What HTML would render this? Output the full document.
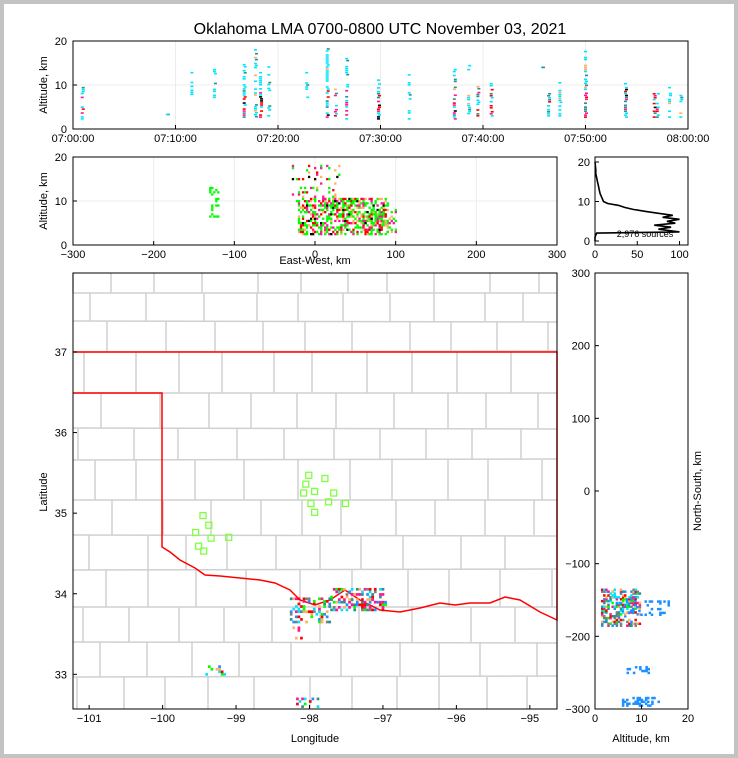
<!DOCTYPE html>
<html><head><meta charset="utf-8"><style>
html,body{margin:0;padding:0;background:#fff}
#wrap{width:738px;height:758px;box-sizing:border-box;border:4px solid #c3c3c3;background:#fff;position:relative;overflow:hidden}
svg{position:absolute;left:-4px;top:-4px;font-family:"Liberation Sans",sans-serif}
</style></head><body>
<div id="wrap">
<svg id="s" width="738" height="758" xmlns="http://www.w3.org/2000/svg"></svg>
</div>
<script>
// ---- data ----
const flashMin = [0.9,9.2,11.6,13.8,16.7,17.8,18.3,19.1,22.8,24.8,25.6,26.7,29.8,32.8,37.2,38.6,39.5,40.8,45.8,46.4,47.5,50.0,53.9,56.7,57.0,58.2,59.3];
const flashLo  = [2.3,3.3,7.9,7.2,2.7,2.8,2.7,3.0,7.2,2.7,3.0,2.3,2.3,2.3,2.3,3.5,3.0,3.0,14.0,3.0,3.0,2.7,2.7,2.7,2.7,2.7,2.7];
const flashHi  = [9.4,3.3,12.8,13.5,14.6,18.0,12.8,14.1,12.8,18.2,9.0,16.0,11.1,12.3,13.5,14.4,9.6,10.3,14.0,8.0,10.5,17.6,10.3,8.0,8.0,9.4,7.6];
const flashDense=[1,0,0,0,1,0,1,0,0,1,1,1,1,0,1,0,1,1,0,1,0,1,1,1,1,0,0];
const ewBoxX0=[-20,-130,-30,70];
const ewBoxX1=[ 90,-118, 30,100];
const ewBoxZ0=[2.5,6.5,10,3];
const ewBoxZ1=[10.5,13,18,8];
const histAlt=[0,1,2,2.3,3,3.5,4,4.5,5,5.5,6,6.5,7,7.5,8,8.5,9,9.5,10,11,12,13,14,15,16,17,18,19,20];
const histCnt=[0,0,2,100,75,90,70,95,85,100,80,92,75,60,45,35,28,15,10,8,6,5,4,3,2,1,1,0.5,0];
const stnLon=[-98.01,-97.79,-98.05,-97.93,-98.08,-97.67,-97.98,-97.74,-97.51,-97.93,-99.45,-99.37,-99.55,-99.34,-99.10,-99.51,-99.44];
const stnLat=[35.47,35.43,35.36,35.27,35.25,35.25,35.12,35.14,35.12,35.01,34.97,34.85,34.76,34.69,34.70,34.59,34.53];
const srcLon0=[-98.25,-97.7,-98.25,-99.4,-98.2];
const srcLon1=[-97.7,-96.95,-98.1,-99.15,-97.85];
const srcLat0=[33.65,33.8,33.45,33.0,32.6];
const srcLat1=[33.95,34.08,33.62,33.1,32.72];
const nsBoxA0=[1.5,5,7,6];
const nsBoxA1=[10,16,12,14];
const nsBoxN0=[-185,-170,-250,-295];
const nsBoxN1=[-135,-150,-240,-283];
const pal=['#00e5ff','#ff0000','#2f8f8f','#ff1493','#ffb060','#00ff00','#1e90ff','#808080'];

// ---- helpers ----
const S=document.getElementById('s');const NS='http://www.w3.org/2000/svg';
function el(t,a,p){const e=document.createElementNS(NS,t);for(const k in a)e.setAttribute(k,a[k]);(p||S).appendChild(e);return e;}
function txt(x,y,s,size,anchor,rot){const t=el('text',{x:x,y:y,'font-size':size,'text-anchor':anchor||'middle',fill:'#000'});if(rot)t.setAttribute('transform','rotate(-90 '+x+' '+y+')');t.textContent=s;return t;}
function lin(d0,d1,r0,r1){return v=>r0+(v-d0)/(d1-d0)*(r1-r0);}
function hsh(i,j){let h=(i*374761393+j*668265263)|0;h=(h^(h>>>13))*1274126177|0;return ((h^(h>>>16))>>>0)%100;}

let t=txt(380,34,'Oklahoma LMA 0700-0800 UTC November 03, 2021',16);

function axesBox(name){const g=el('g',{});return g;}
function frame(g,x0,y0,x1,y1){el('rect',{x:x0,y:y0,width:x1-x0,height:y1-y0,fill:'none',stroke:'#000','stroke-width':1},g);}

// ---- Panel 1 ----
const g1=axesBox('time-height-panel');
const tx=lin(0,60,73,688), ty1=lin(0,20,129,41);
[0,10,20,30,40,50,60].forEach(m=>el('line',{x1:tx(m),x2:tx(m),y1:41,y2:129,stroke:'#ececec'},g1));
el('line',{x1:73,x2:688,y1:ty1(10),y2:ty1(10),stroke:'#ececec'},g1);
flashMin.forEach((m,i)=>{const n=Math.max(1,Math.round((flashHi[i]-flashLo[i])/0.45));for(let k=0;k<=n;k++){const h=hsh(i+3,k+11);if(k>0&&k<n&&h<(flashDense[i]?30:55))continue;const a=flashLo[i]+(flashHi[i]-flashLo[i])*k/n;let c=pal[0];
if(flashDense[i]&&a<9){c=h%5==0?pal[1]:h%5==1?pal[3]:h%5==2?pal[2]:pal[0];if(h%11==0)c='#000';}else{c=h%6==0?pal[2]:h%9==1?pal[4]:pal[0];}
const r=el('rect',{x:tx(m)-1.5+(h%3==0?1:0),y:ty1(a)-0.8,width:3,height:1.6,fill:c},g1);
}});
frame(g1,73,41,688,129);
[0,10,20].forEach(v=>{el('line',{x1:73,x2:77,y1:ty1(v),y2:ty1(v),stroke:'#000'},g1);txt(67,ty1(v)+4,String(v),11,'end');});
['07:00:00','07:10:00','07:20:00','07:30:00','07:40:00','07:50:00','08:00:00'].forEach((s,i)=>{el('line',{x1:tx(i*10),x2:tx(i*10),y1:129,y2:125,stroke:'#000'},g1);txt(tx(i*10),142,s,11);});
t=txt(47,85,'Altitude, km',11,'middle',true);

// ---- Panel 2 ----
const g2=axesBox('ew-height-panel');
const ex=lin(-300,300,73,557), ey=lin(0,20,245,157);
[-300,-200,-100,0,100,200,300].forEach(v=>el('line',{x1:ex(v),x2:ex(v),y1:157,y2:245,stroke:'#ececec'},g2));
el('line',{x1:73,x2:557,y1:ey(10),y2:ey(10),stroke:'#ececec'},g2);
const ewKeep=[55,35,12,30];
ewBoxX0.forEach((x0,b)=>{let i=0;for(let xv=x0;xv<=ewBoxX1[b];xv+=2.5){i++;let j=0;for(let z=ewBoxZ0[b];z<=ewBoxZ1[b];z+=0.5){j++;const h=hsh(i*7+b,j*5+b);if(h>=ewKeep[b])continue;
const c=b==1?pal[5]:(h%6==1?pal[1]:h%6==2?pal[3]:h%6==3?pal[4]:h%13==4?'#000':pal[5]);
const r=el('rect',{x:ex(xv)-1,y:ey(z)-1,width:2.3,height:2.3,fill:c},g2);
}}});
frame(g2,73,157,557,245);
[0,10,20].forEach(v=>{el('line',{x1:73,x2:77,y1:ey(v),y2:ey(v),stroke:'#000'},g2);txt(67,ey(v)+4,String(v),11,'end');});
[-300,-200,-100,0,100,200,300].forEach(v=>{el('line',{x1:ex(v),x2:ex(v),y1:245,y2:241,stroke:'#000'},g2);txt(ex(v),258,(v<0?'\u2212':'')+Math.abs(v),11);});
t=txt(315,264,'East-West, km',11);
t=txt(47,201,'Altitude, km',11,'middle',true);

// ---- Histogram ----
const g3=axesBox('altitude-histogram');
const hx=lin(0,110,595,688), hy=lin(0,20,241,162);
let d='';histAlt.forEach((a,i)=>{d+=(i?'L':'M')+hx(histCnt[i]).toFixed(1)+','+hy(a).toFixed(1);});
const hp=el('path',{d:d,fill:'none',stroke:'#000','stroke-width':1.6},g3);

frame(g3,595,157,688,245);
[0,10,20].forEach(v=>{el('line',{x1:595,x2:599,y1:hy(v),y2:hy(v),stroke:'#000'},g3);txt(590,hy(v)+4,String(v),11,'end');});
[0,50,100].forEach(v=>{el('line',{x1:hx(v),x2:hx(v),y1:245,y2:241,stroke:'#000'},g3);txt(hx(v),258,String(v),11);});
t=txt(645,237,'2,976 sources',9);

// ---- Map ----
const g4=axesBox('plan-view-map');
const mx=lin(-101.22,-94.63,73,557), my=lin(32.57,37.98,709,273);
const rows=[273,293,321,352,393,428,460,500,535,570,607,642,677,709];
rows.forEach((y,ri)=>{if(ri>0&&ri<rows.length-1)el('line',{x1:73,x2:557,y1:y,y2:y+((ri%3)-1),stroke:'#d0d0d0','stroke-width':1.5},g4);
if(ri<rows.length-1){const y2=rows[ri+1];const off=(ri*17)%40;let c=0;for(let x=73+off;x<557;x+=38+hsh(ri,c++)%22){el('line',{x1:x,x2:x,y1:y,y2:y2,stroke:'#d0d0d0','stroke-width':1.5},g4);}}});
const rp=el('path',{d:'M73,352L557,352L557,620L540,612L520,600L505,597L490,603L470,603L455,605L440,603L420,608L400,612L380,610L360,600L345,590L330,600L315,605L300,600L290,590L275,583L260,580L240,578L220,576L205,575L195,568L180,560L170,552L162,547L162,393L73,393',fill:'none',stroke:'#ff0000','stroke-width':1.5},g4);

const mKeep=[40,45,15,35,35];
srcLon0.forEach((l0,b)=>{let i=0;for(let lo=l0;lo<=srcLon1[b];lo+=0.035){i++;let j=0;for(let la=srcLat0[b];la<=srcLat1[b];la+=0.032){j++;const h=hsh(i*3+b*100,j*9+b);if(h>=mKeep[b])continue;
const r=el('rect',{x:mx(lo)-1.3,y:my(la)-1.3,width:2.7,height:2.7,fill:pal[h%8]},g4);
}}});
stnLon.forEach((lo,i)=>{const r=el('rect',{x:mx(lo)-3,y:my(stnLat[i])-3,width:6,height:6,fill:'none',stroke:'#80ff40','stroke-width':1.3},g4);
});
frame(g4,73,273,557,709);
[33,34,35,36,37].forEach(v=>{el('line',{x1:73,x2:77,y1:my(v),y2:my(v),stroke:'#000'},g4);txt(67,my(v)+4,String(v),11,'end');});
[-101,-100,-99,-98,-97,-96,-95].forEach(v=>{el('line',{x1:mx(v),x2:mx(v),y1:709,y2:705,stroke:'#000'},g4);txt(mx(v),722,'\u2212'+Math.abs(v),11);});
t=txt(315,742,'Longitude',11);
t=txt(47,492,'Latitude',11,'middle',true);

// ---- NS vs alt ----
const g5=axesBox('ns-height-panel');
const ax=lin(0,20,595,688), ny=lin(-300,300,709,273);
const nKeep=[55,20,30,35];
nsBoxA0.forEach((a0,b)=>{let i=0;for(let a=a0;a<=nsBoxA1[b];a+=0.45){i++;let j=0;for(let n=nsBoxN0[b];n<=nsBoxN1[b];n+=2.6){j++;const h=hsh(i*5+b*50,j*7+b);if(h>=nKeep[b])continue;
const r=el('rect',{x:ax(a)-1,y:ny(n)-1,width:2.5,height:2.5,fill:b==0?pal[h%8]:pal[6]},g5);
}}});
frame(g5,595,273,688,709);
[-300,-200,-100,0,100,200,300].forEach(v=>{el('line',{x1:595,x2:599,y1:ny(v),y2:ny(v),stroke:'#000'},g5);txt(590,ny(v)+4,(v<0?'\u2212':'')+Math.abs(v),11,'end');});
[0,10,20].forEach(v=>{el('line',{x1:ax(v),x2:ax(v),y1:709,y2:705,stroke:'#000'},g5);txt(ax(v),722,String(v),11);});
t=txt(641,742,'Altitude, km',11);
t=txt(701,491,'North-South, km',11,'middle',true);
</script>
</body></html>
